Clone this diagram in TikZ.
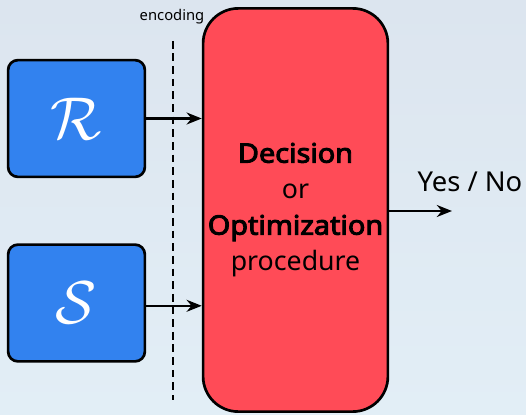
\documentclass[tikz,border=0pt]{standalone}
\usepackage{fontspec}
\setmainfont{Noto Sans}[BoldFont={Noto Sans}, BoldFeatures={FakeBold=3.6, FakeStretch=1.08}]
\usepackage{tikz}
\usetikzlibrary{positioning, shapes, arrows.meta}

\definecolor{setblue}{HTML}{3282EF}
\definecolor{procred}{HTML}{FF4B57}
\definecolor{bgtop}{HTML}{DCE5EF}
\definecolor{bgbottom}{HTML}{E2EEF6}

\tikzset{
  setbox/.style={draw, line width=1.9pt, fill=setblue, rounded corners=7pt,
    minimum width=3.42cm, minimum height=2.92cm, inner sep=0pt, text=white},
  procbox/.style={draw, line width=1.9pt, fill=procred, rounded corners=25pt,
    minimum width=4.62cm, minimum height=10.08cm, inner sep=0pt, align=center,
    font=\fontsize{19}{25.6}\selectfont},
  feed/.style={line width=1.6pt, -{Stealth[length=3.8mm,width=3mm]}}
}

\begin{document}
\begin{tikzpicture}
    % Background
    \shade[top color=bgtop, bottom color=bgbottom] (0,0) rectangle (13.15,10.35);
    \useasboundingbox (0,0) rectangle (13.15,10.35);

    % Procedure
    \node[procbox] (proc) at (7.3875,5.1)
      {\textbf{Decision}\\or\\\textbf{Optimization}\\procedure};

    % Inputs
    \node[setbox] (rel) at (1.9125,7.3875) {\scalebox{4.3}{$\mathcal{R}$}};
    \node[setbox] (sel) at (1.9125,2.775) {\scalebox{4.3}{$\mathcal{S}$}};

    % Encoding line
    \coordinate (enctop) at (4.325,9.33);
    \coordinate (encbot) at (4.325,0.35);
    \draw[line width=1.6pt, dash pattern=on 5.5pt off 3.5pt] (enctop) -- (encbot);
    \node[font=\fontsize{10.5}{12}\selectfont] (enc) at (4.3,9.93) {encoding};

    % Arrows
    \draw[feed] (rel.east) -- (rel.east -| proc.west);
    \draw[feed] ([yshift=-0.7mm]sel.east) -- ([yshift=-0.7mm]sel.east -| proc.west);

    \coordinate (out) at (11.3,5.075);
    \draw[feed] (proc.east |- out) -- (out);
    \node[font=\fontsize{19.5}{22}\selectfont] (ans) at (11.75,5.8) {Yes / No};
  \end{tikzpicture}
\end{document}
